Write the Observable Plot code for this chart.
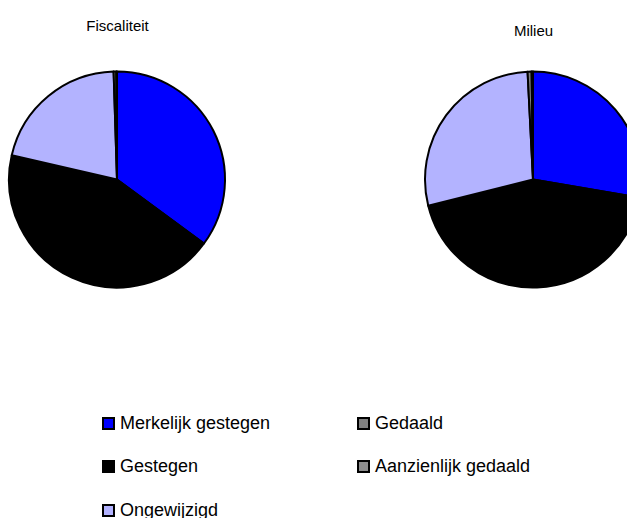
<!DOCTYPE html>
<html><head><meta charset="utf-8">
<script src="https://cdn.jsdelivr.net/npm/d3@7"></script>
<script src="https://cdn.jsdelivr.net/npm/@observablehq/plot@0.6"></script>
<style>
html,body{margin:0;padding:0;background:#fff;overflow:hidden;width:627px;height:518px;}
body{font-family:"Liberation Sans",Arial,sans-serif;position:relative;}
#legend{position:absolute;left:0;top:0;width:627px;height:518px;pointer-events:none;}
.item{position:absolute;display:flex;align-items:center;font-size:18px;color:#000;white-space:nowrap;height:20px;line-height:20px;}
.sw{width:13px;height:13px;box-sizing:border-box;border:2px solid #000;margin-right:5px;flex:none;}
</style></head><body>
<div id="chart"></div>
<div id="legend"></div>
<script>
const charts = ["Fiscaliteit", "Milieu"];
const categories = ["Merkelijk gestegen", "Gestegen", "Ongewijzigd", "Gedaald", "Aanzienlijk gedaald"];
const fiscaliteit = [35.1, 43.5, 20.9, 0.4, 0.1];
const milieu = [27.7, 43.4, 28.1, 0.6, 0.2];
const colors = ["#0000ff", "#000000", "#b3b3ff", "#808080", "#8c8c8c"];
// legend layout: column of each category, row of each category
const legendCol = [0, 0, 0, 1, 1];
const legendRow = [0, 1, 2, 0, 1];

const seriesByChart = {Fiscaliteit: fiscaliteit, Milieu: milieu};
const table = charts.flatMap(c => categories.map((k, j) => ({chart: c, category: k, value: seriesByChart[c][j]})));

const R = 108, CY = 179.5;

function pieMark(data) {
  return (index, scales, values, dimensions, context) => {
    const g = d3.select(context.document.createElementNS("http://www.w3.org/2000/svg", "g"));
    const color = scales.color;
    for (const c of charts) {
      const rows = data.filter(d => d.chart === c);
      const arcs = d3.pie().sort(null).value(d => d.value)(rows);
      const arc = d3.arc().innerRadius(0).outerRadius(R);
      const gg = g.append("g").attr("transform", `translate(${scales.x(c)},${CY})`);
      gg.selectAll("path").data(arcs).join("path")
        .attr("d", arc)
        .attr("fill", d => color(d.data.category))
        .attr("stroke", "#000")
        .attr("stroke-width", 2)
        .attr("stroke-linejoin", "round");
    }
    return g.node();
  };
}

const plot = Plot.plot({
  width: 627,
  height: 400,
  margin: 0,
  style: {fontFamily: "'Liberation Sans', Arial, sans-serif", background: "#fff", overflow: "hidden"},
  x: {type: "point", domain: charts, range: [117, 533], padding: 0, axis: null},
  color: {type: "ordinal", domain: categories, range: colors},
  marks: [
    Plot.dot(table, {x: "chart", fill: "category", r: 0, frameAnchor: "middle"}),
    pieMark(table),
    Plot.text(charts.slice(0, 1), {x: d => d, text: d => d, frameAnchor: "top", dy: 20, fontSize: 15, fill: "#000"}),
    Plot.text(charts.slice(1), {x: d => d, text: d => d, frameAnchor: "top", dy: 25, fontSize: 15, fill: "#000"})
  ]
});
document.getElementById("chart").appendChild(plot);

const legend = document.getElementById("legend");
const colX = [102, 357], rowY = [423, 466, 510];
categories.forEach((k, i) => {
  const it = document.createElement("div");
  it.className = "item";
  it.style.left = colX[legendCol[i]] + "px";
  it.style.top = (rowY[legendRow[i]] - 10) + "px";
  const sw = document.createElement("span");
  sw.className = "sw";
  sw.style.background = plot.scale("color").apply(k);
  const t = document.createElement("span");
  t.textContent = k;
  it.appendChild(sw); it.appendChild(t);
  legend.appendChild(it);
});
</script>
</body></html>
